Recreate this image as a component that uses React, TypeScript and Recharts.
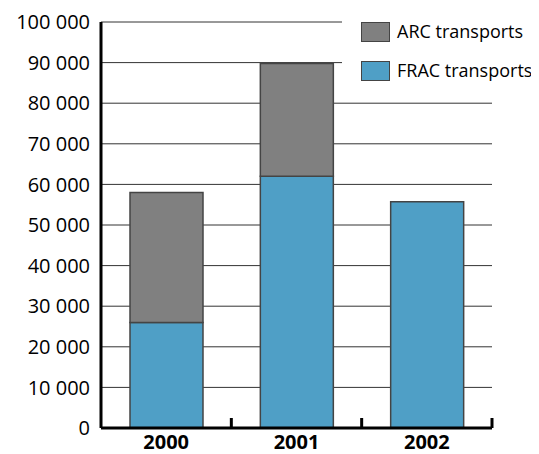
import { Bar, BarChart, CartesianGrid, Legend, XAxis, YAxis } from 'recharts';

const years = ['2000', '2001', '2002'];
const fracTransports = [26000, 62000, 55700];
const arcTransports = [32000, 27800, 0];
const yTicks = [0, 10000, 20000, 30000, 40000, 50000, 60000, 70000, 80000, 90000, 100000];

const FONT = '"Open Sans", "Noto Sans", sans-serif';
const FRAC_COLOR = '#4f9fc6';
const ARC_COLOR = '#808080';
const EDGE = '#444';

const W = 531;
const H = 446;
const MARGIN = { top: 14, right: 47, left: 0, bottom: 0 };
const Y_AXIS_W = 93;
const X_AXIS_H = 26;
const AXIS_Y = H - MARGIN.bottom - X_AXIS_H;
const BAND = (W - MARGIN.left - MARGIN.right - Y_AXIS_W) / years.length;

const data = years.map((year, i) => ({
  year,
  frac: fracTransports[i],
  arc: arcTransports[i],
}));

function formatThousands(v: number): string {
  return String(v).replace(/\B(?=(\d{3})+(?!\d))/g, ' ');
}

function YearTick(props: any) {
  const { x, payload } = props;
  const half = payload?.offset ?? BAND / 2;
  const bx = x + half;
  return (
    <g>
      <line x1={bx} x2={bx} y1={AXIS_Y} y2={AXIS_Y - 10} stroke="#000" strokeWidth={3} />
      <text
        x={x}
        y={AXIS_Y + 21}
        textAnchor="middle"
        fontFamily={FONT}
        fontSize={20}
        fontWeight={700}
        fill="#000"
      >
        {payload.value}
      </text>
    </g>
  );
}

const legendItems = [
  { label: 'ARC transports', color: ARC_COLOR },
  { label: 'FRAC transports', color: FRAC_COLOR },
];

function ChartLegend() {
  return (
    <div style={{ background: '#fff', width: 189, height: 84, position: 'relative' }}>
      {legendItems.map((item, i) => (
        <div
          key={item.label}
          style={{
            position: 'absolute',
            left: 19,
            top: 8 + i * 39,
            display: 'flex',
            alignItems: 'center',
            whiteSpace: 'nowrap',
          }}
        >
          <div
            style={{
              width: 27,
              height: 18,
              flexShrink: 0,
              background: item.color,
              border: `1.5px solid ${EDGE}`,
            }}
          />
          <span style={{ marginLeft: 7, fontFamily: FONT, fontSize: 18, color: '#000', lineHeight: '21px' }}>
            {item.label}
          </span>
        </div>
      ))}
    </div>
  );
}

export default function App() {
  return (
    <BarChart width={W} height={H} data={data} margin={MARGIN} barSize={73}>
      <CartesianGrid vertical={false} stroke="#333" strokeWidth={1} />
      <XAxis
        dataKey="year"
        height={X_AXIS_H}
        axisLine={{ stroke: '#000', strokeWidth: 3 }}
        tickLine={false}
        tick={<YearTick />}
        interval={0}
      />
      <YAxis
        width={Y_AXIS_W}
        domain={[0, 100000]}
        ticks={yTicks}
        interval={0}
        tickFormatter={formatThousands}
        axisLine={{ stroke: '#000', strokeWidth: 3 }}
        tickLine={false}
        tickMargin={5}
        tick={{ fontFamily: FONT, fontSize: 20, fill: '#000' }}
      />
      <Legend
        layout="vertical"
        align="center"
        verticalAlign="middle"
        content={<ChartLegend />}
        wrapperStyle={{ top: 5, left: 334, width: 189 }}
      />
      <Bar dataKey="frac" stackId="t" fill={FRAC_COLOR} stroke={EDGE} strokeWidth={1.5} isAnimationActive={false} />
      <Bar dataKey="arc" stackId="t" fill={ARC_COLOR} stroke={EDGE} strokeWidth={1.5} isAnimationActive={false} />
    </BarChart>
  );
}
